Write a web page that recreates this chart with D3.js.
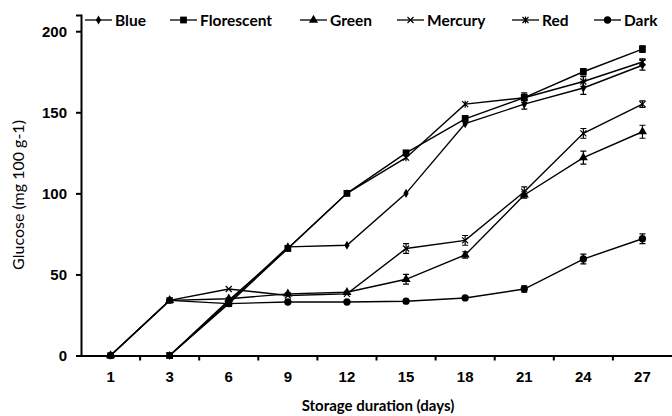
<!DOCTYPE html>
<html>
<head>
<meta charset="utf-8">
<script src="https://cdn.jsdelivr.net/npm/d3@7"></script>
<style>
  body { margin: 0; background: #fff; }
  svg { display: block; font-family: Lato, "Open Sans", sans-serif; }
</style>
</head>
<body>
<div id="chart"></div>
<script>
const days = [1, 3, 6, 9, 12, 15, 18, 21, 24, 27];
const seriesNames = ["Blue", "Florescent", "Green", "Mercury", "Red", "Dark"];
const blue       = [null, 0, 33, 67, 68, 100, 143, 155, 165, 179];
const florescent = [null, 0, 32, 66, 100, 125, 146, 159, 175, 189];
const green      = [0, 34, 35, 38, 39, 47, 62, 99, 122, 138];
const mercury    = [0, 34, 41, 37, 38, 66, 71, 101, 137, 155];
const red        = [null, 0, 34, 66, 100, 122, 155, 159, 169, 181];
const dark       = [0, 34, 32, 33, 33, 33.5, 35.5, 41, 59.5, 72];
const blueErr    = [0, 0, 0, 0, 0, 0, 0, 3, 4, 3];
const florErr    = [0, 0, 0, 0, 0, 0, 2, 2, 2, 2];
const greenErr   = [0, 0, 0, 0, 0, 3, 2, 2, 4, 4];
const mercErr    = [0, 0, 0, 0, 0, 3, 3, 3, 3, 2];
const redErr     = [0, 0, 0, 0, 0, 0, 0, 3, 3, 2];
const darkErr    = [0, 0, 0, 0, 0, 0, 0, 2, 3, 3];
const yTicks = [0, 50, 100, 150, 200];

const values = [blue, florescent, green, mercury, red, dark];
const errors = [blueErr, florErr, greenErr, mercErr, redErr, darkErr];
const markers = ["diamond", "square", "triangle", "x", "star", "circle"];
const legendX = [85, 170, 300, 397, 512, 594];

const W = 672, H = 416;
const svg = d3.select("#chart").append("svg")
    .attr("width", W)
    .attr("height", H);

const x = d3.scaleBand()
    .domain(days)
    .range([81, 672])
    .padding(0);

const y = d3.scaleLinear()
    .domain([0, 210])
    .range([355.5, 15]);

// y axis
const yAxis = d3.axisLeft(y)
    .tickValues(yTicks)
    .tickSize(5)
    .tickPadding(9);
const gy = svg.append("g")
    .attr("transform", "translate(81,0)")
    .call(yAxis);
gy.select(".domain").attr("stroke", "#000").attr("stroke-width", 2);
gy.selectAll(".tick line").attr("stroke", "#000").attr("stroke-width", 2);
gy.selectAll(".tick text")
    .style("font-size", "15px")
    .style("font-weight", "bold")
    .attr("fill", "#000");

// x axis (ticks between categories)
const xAxis = d3.axisBottom(x)
    .tickSize(0)
    .tickPadding(16);
const gx = svg.append("g")
    .attr("transform", "translate(0," + y(0) + ")")
    .call(xAxis);
gx.select(".domain").attr("stroke", "#000").attr("stroke-width", 2);
gx.selectAll(".tick text")
    .style("font-size", "15px")
    .style("font-weight", "bold")
    .attr("fill", "#000");
gx.selectAll(".bound")
    .data(days.slice(1))
    .enter()
    .append("line")
    .attr("x1", d => x(d))
    .attr("x2", d => x(d))
    .attr("y1", 0)
    .attr("y2", 5)
    .attr("stroke", "#000")
    .attr("stroke-width", 2);

svg.append("text")
    .attr("x", 378)
    .attr("y", 411)
    .attr("text-anchor", "middle")
    .style("font-size", "15px")
    .style("font-weight", "bold")
    .text("Storage duration  (days)");

svg.append("text")
    .attr("transform", "translate(24," + 195 + ") rotate(-90)")
    .attr("text-anchor", "middle")
    .style("font-size", "16px")
    .text("Glucose (mg 100 g-1)");

const cx = d => x(d) + x.bandwidth() / 2;

function drawMarker(g, type) {
    if (type === "diamond") {
        g.append("path").attr("d", d3.symbol(d3.symbolDiamond, 24)()).attr("fill", "#000");
    } else if (type === "square") {
        g.append("path").attr("d", d3.symbol(d3.symbolSquare, 46)()).attr("fill", "#000");
    } else if (type === "triangle") {
        g.append("path").attr("d", d3.symbol(d3.symbolTriangle, 36)()).attr("fill", "#000");
    } else if (type === "circle") {
        g.append("path").attr("d", d3.symbol(d3.symbolCircle, 42)()).attr("fill", "#000");
    } else if (type === "x") {
        g.append("path").attr("d", "M-3,-3L3,3M-3,3L3,-3")
            .attr("stroke", "#000").attr("stroke-width", 1.2).attr("fill", "none");
    } else if (type === "star") {
        g.append("path").attr("d", "M-3,-3L3,3M-3,3L3,-3M0,-3.5L0,3.5")
            .attr("stroke", "#000").attr("stroke-width", 1.2).attr("fill", "none");
    }
}

const line = d3.line()
    .defined(d => d.v !== null)
    .x(d => cx(d.day))
    .y(d => y(d.v));

values.forEach((vals, i) => {
    const pts = days.map((day, j) => ({day, v: vals[j], e: errors[i][j]}));
    const g = svg.append("g");
    g.append("path")
        .datum(pts)
        .attr("fill", "none")
        .attr("stroke", "#000")
        .attr("stroke-width", 1.4)
        .attr("d", line);

    // error bars
    pts.filter(p => p.v !== null && p.e > 0).forEach(p => {
        const px = cx(p.day);
        g.append("path")
            .attr("d", `M${px},${y(p.v - p.e)}L${px},${y(p.v + p.e)}` +
                `M${px - 3},${y(p.v - p.e)}L${px + 3},${y(p.v - p.e)}` +
                `M${px - 3},${y(p.v + p.e)}L${px + 3},${y(p.v + p.e)}`)
            .attr("stroke", "#000")
            .attr("stroke-width", 1.2)
            .attr("fill", "none");
    });

    pts.filter(p => p.v !== null).forEach(p => {
        const m = g.append("g").attr("transform", `translate(${cx(p.day)},${y(p.v)})`);
        drawMarker(m, markers[i]);
    });
});

// legend
seriesNames.forEach((name, i) => {
    const lg = svg.append("g").attr("transform", `translate(${legendX[i]},20)`);
    lg.append("line")
        .attr("x1", 0).attr("x2", 27)
        .attr("y1", 0).attr("y2", 0)
        .attr("stroke", "#000").attr("stroke-width", 1.3);
    drawMarker(lg.append("g").attr("transform", "translate(13.5,0)"), markers[i]);
    lg.append("text")
        .attr("x", 30)
        .attr("y", 5.5)
        .style("font-size", "15.5px")
        .style("font-weight", "bold")
        .text(name);
});
</script>
</body>
</html>
